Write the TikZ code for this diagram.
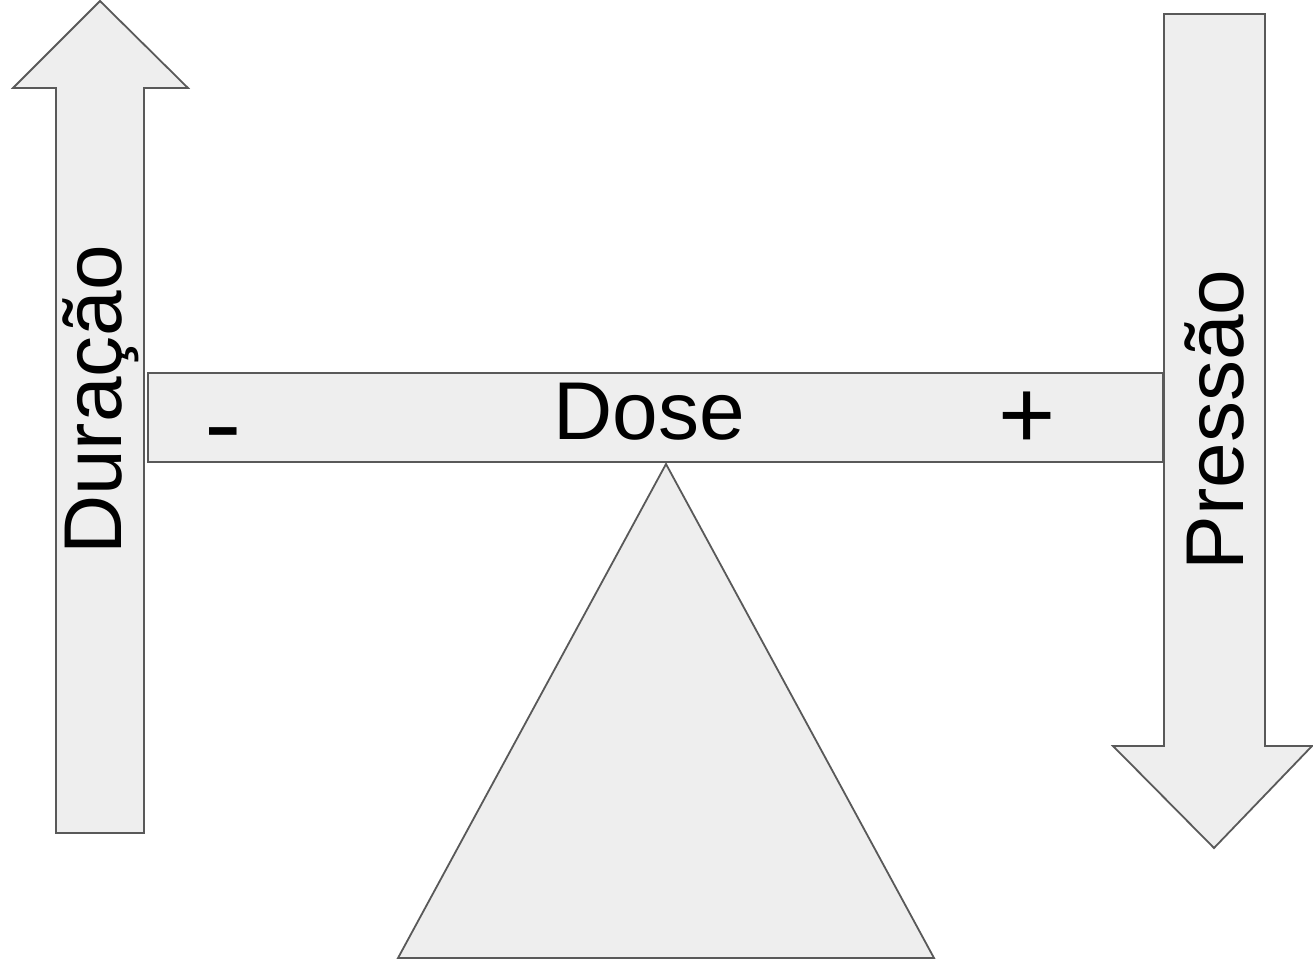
\documentclass[tikz,border=0pt]{standalone}
\usepackage{fontspec}
\setmainfont{Liberation Sans}
\definecolor{shapefill}{HTML}{EEEEEE}
\definecolor{shapeline}{HTML}{595959}
\begin{document}
\begin{tikzpicture}[x=1pt,y=-1pt,
  grayshape/.style={fill=shapefill,draw=shapeline,line width=1.8pt,line join=miter},
  lbl/.style={inner sep=0pt,font=\fontsize{82}{82}\selectfont},
  sign/.style={inner sep=0pt,font=\fontsize{98}{98}\selectfont}]
\useasboundingbox (0,0) rectangle (1313,967);
% left up arrow
\draw[grayshape] (100,1) -- (188,88) -- (144,88) -- (144,833) -- (56,833) -- (56,88) -- (13,88) -- cycle;
% right down arrow
\draw[grayshape] (1164,14) -- (1265,14) -- (1265,746) -- (1312,746) -- (1214,848) -- (1113,746) -- (1164,746) -- cycle;
% bar
\draw[grayshape] (148,373) rectangle (1163,462);
% fulcrum
\draw[grayshape] (666,464) -- (934,958) -- (398,958) -- cycle;
% labels
\node[lbl,anchor=base] (dose) at (649,439) {Dose};
\node[lbl,anchor=base,rotate=90] (dur) at (121,400) {Duração};
\node[lbl,anchor=base,rotate=90] (pres) at (1243,420) {Pressão};
\node[sign] (minus) at (223,443) {\scalebox{1.15}[1]{-}};
\node[sign] (plus) at (1027,420) {+};
\end{tikzpicture}
\end{document}
